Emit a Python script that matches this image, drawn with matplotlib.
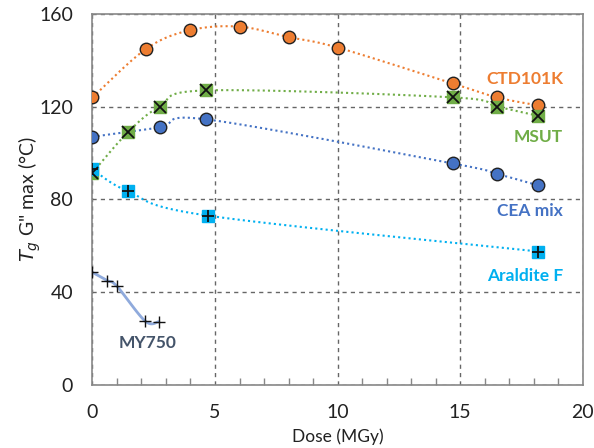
import matplotlib
matplotlib.use("Agg")
import matplotlib.pyplot as plt
import numpy as np

plt.rcParams['font.family'] = ['Lato', 'DejaVu Sans']

# data
ctd_x = [0, 2.2, 4, 6, 8, 10, 14.7, 16.5, 18.2]
ctd_y = [124, 145, 153, 154.5, 150, 145.5, 130, 124, 120.5]
msut_x = [0, 1.45, 2.75, 4.65, 14.7, 16.5, 18.2]
msut_y = [91.5, 109, 120, 127, 124, 120, 116]
cea_x = [0, 2.75, 4.65, 14.7, 16.5, 18.2]
cea_y = [107, 111, 114.5, 95.5, 91, 86]
aral_x = [0, 1.45, 4.7, 18.2]
aral_y = [93, 83.5, 73, 57.5]
my_x = [0, 0.6, 1, 2.15, 2.7]
my_y = [48.5, 45, 42.5, 27.5, 27.2]


def smooth(x, y, n=30):
    # Excel-style smoothed line (Catmull-Rom through the points)
    x = np.asarray(x, float)
    y = np.asarray(y, float)
    px = np.concatenate([[x[0]], x, [x[-1]]])
    py = np.concatenate([[y[0]], y, [y[-1]]])
    xs, ys = [], []
    t = np.linspace(0, 1, n)
    for i in range(1, len(px) - 2):
        p0, p1, p2, p3 = (np.array([px[j], py[j]]) for j in range(i - 1, i + 3))
        c1 = p1 + (p2 - p0) / 6
        c2 = p2 - (p3 - p1) / 6
        b = ((1 - t) ** 3)[:, None] * p1 + (3 * (1 - t) ** 2 * t)[:, None] * c1 \
            + (3 * (1 - t) * t ** 2)[:, None] * c2 + (t ** 3)[:, None] * p2
        xs.extend(b[:, 0])
        ys.extend(b[:, 1])
    return xs, ys


orange = "#ED7D31"
green = "#70AD47"
blue = "#4472C4"
cyan = "#00B0F0"
slate = "#44546A"

fig = plt.figure(figsize=(5.94, 4.48), dpi=100)
ax = fig.add_axes([0.1557, 0.141, 0.825, 0.828])

for xs, ys, c in [(ctd_x, ctd_y, orange), (msut_x, msut_y, green),
                  (cea_x, cea_y, blue), (aral_x, aral_y, cyan)]:
    sx, sy = smooth(xs, ys)
    ax.plot(sx, sy, color=c, lw=1.5, ls=(0, (1, 1.5)), zorder=2)

sx, sy = smooth(my_x, my_y)
ax.plot(sx, sy, color="#8FAADC", lw=2, zorder=2)

ax.plot(ctd_x, ctd_y, 'o', ms=9, mfc=orange, mec='#222222', mew=1, zorder=3)
ax.plot(cea_x, cea_y, 'o', ms=9, mfc=blue, mec='#222222', mew=1, zorder=3)
ax.plot(msut_x, msut_y, 's', ms=8.5, mfc=green, mec=green, zorder=3)
ax.plot(msut_x, msut_y, 'x', ms=8.5, mec='#111111', mew=1.3, zorder=4)
ax.plot(aral_x, aral_y, 's', ms=8.5, mfc=cyan, mec=cyan, zorder=3)
ax.plot(aral_x, aral_y, '+', ms=9, mec='#111111', mew=1.3, zorder=4)
ax.plot(my_x, my_y, '+', ms=9, mec='#111111', mew=1, zorder=4)

ax.text(19.2, 132, "CTD101K", color=orange, fontsize=12.5, fontweight='bold', ha='right', va='center')
ax.text(19.2, 107, "MSUT", color=green, fontsize=12.5, fontweight='bold', ha='right', va='center')
ax.text(19.2, 75, "CEA mix", color=blue, fontsize=12.5, fontweight='bold', ha='right', va='center')
ax.text(19.2, 47, "Araldite F", color=cyan, fontsize=12.5, fontweight='bold', ha='right', va='center')
ax.text(2.25, 18, "MY750", color=slate, fontsize=12.5, fontweight='bold', ha='center', va='center')

ax.set_xlim(0, 20)
ax.set_ylim(0, 160)
ax.set_xticks([0, 5, 10, 15, 20])
ax.set_yticks([0, 40, 80, 120, 160])
ax.set_xticks(np.arange(0, 21, 1), minor=True)
ax.grid(True, which='major', color='#666666', ls=(0, (3, 3)), lw=1)
ax.tick_params(axis='both', which='major', length=0, labelsize=14, colors='#222222')
ax.tick_params(axis='x', which='major', pad=14)
ax.tick_params(axis='y', which='major', pad=14)
ax.tick_params(axis='x', which='minor', direction='in', length=5, color='#888888', width=1)
ax.tick_params(axis='y', which='minor', length=0)
for s in ax.spines.values():
    s.set_color('#888888')
    s.set_linewidth(1.2)

ax.set_xlabel("Dose (MGy)", fontsize=12.5, color='#222222', labelpad=5)
ax.set_ylabel("$T_g$ G\" max (°C)", fontsize=14, color='#222222', labelpad=-3)

fig.savefig("out.png", dpi=100)
